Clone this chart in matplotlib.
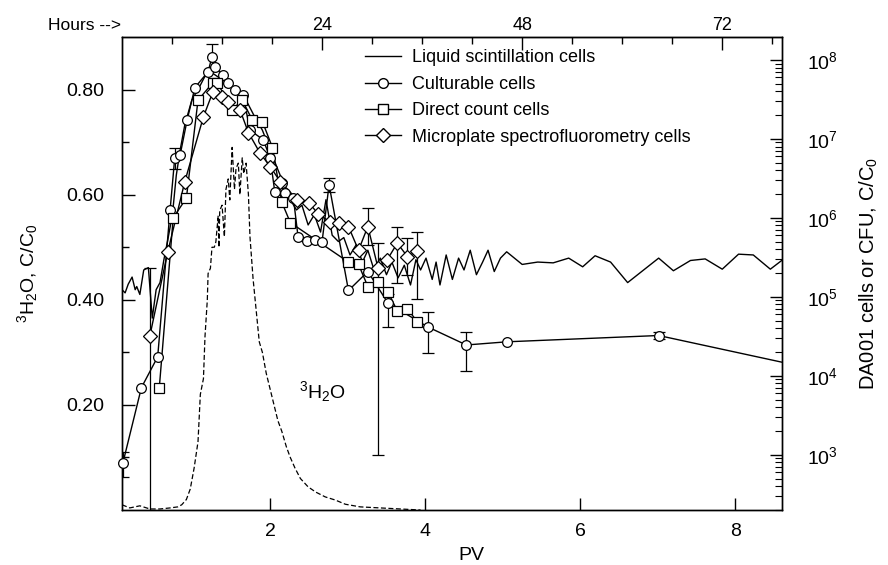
import numpy as np
import matplotlib
matplotlib.use('Agg')
import matplotlib.pyplot as plt
from matplotlib.lines import Line2D
from matplotlib.ticker import FixedLocator, LogLocator, NullFormatter, FuncFormatter

plt.rcParams['font.family'] = ['Liberation Sans', 'DejaVu Sans']
plt.rcParams['mathtext.fontset'] = 'custom'
plt.rcParams['mathtext.rm'] = 'Liberation Sans'
plt.rcParams['mathtext.it'] = 'Liberation Sans:italic'
plt.rcParams['mathtext.bf'] = 'Liberation Sans:bold'

# ---------------- data ----------------
# 3H2O breakthrough (left axis, C/C0)
tritium_pv = [0.09, 0.19, 0.32, 0.45, 0.58, 0.71, 0.81, 0.86, 0.92, 0.97, 1.02, 1.07, 1.10, 1.14,
              1.16, 1.19, 1.20, 1.23, 1.25, 1.28, 1.30, 1.33, 1.34, 1.35, 1.38, 1.41, 1.43, 1.46,
              1.48, 1.51, 1.54, 1.56, 1.59, 1.61, 1.64, 1.66, 1.69, 1.72, 1.74, 1.78, 1.82, 1.86,
              1.90, 1.95, 2.00, 2.05, 2.10, 2.15, 2.21, 2.26, 2.32, 2.39, 2.49, 2.59, 2.71, 2.84,
              2.97, 3.16, 3.42, 3.68, 3.94]
tritium_c = [0.010, 0.004, 0.008, 0.002, 0.002, 0.004, 0.006, 0.010, 0.02, 0.04, 0.08, 0.13, 0.22, 0.25,
             0.33, 0.40, 0.45, 0.46, 0.50, 0.50, 0.51, 0.56, 0.50, 0.57, 0.58, 0.52, 0.61, 0.63,
             0.59, 0.69, 0.61, 0.65, 0.66, 0.60, 0.67, 0.64, 0.66, 0.60, 0.52, 0.44, 0.38, 0.32,
             0.30, 0.26, 0.23, 0.20, 0.17, 0.15, 0.12, 0.10, 0.08, 0.06, 0.044, 0.034, 0.025, 0.019,
             0.011, 0.006, 0.004, 0.002, 0.0]

# Liquid scintillation cells (right axis, log10 C/C0)
liquid_pv = [0.09, 0.13, 0.17, 0.22, 0.26, 0.28, 0.32, 0.37, 0.43, 0.48, 0.53, 0.58, 0.63, 0.68,
             0.74, 0.79, 0.84, 0.90, 0.99, 1.10, 1.20, 1.29, 1.38, 1.48, 1.59, 1.69, 1.79, 1.90,
             2.00, 2.10, 2.18, 2.26, 2.34, 2.41, 2.49, 2.57, 2.65, 2.72, 2.80, 2.88, 2.95, 3.03,
             3.11, 3.19, 3.26, 3.34, 3.42, 3.50, 3.57, 3.65, 3.73, 3.81, 3.88, 3.94, 4.01, 4.09,
             4.14, 4.19, 4.27, 4.35, 4.43, 4.50, 4.58, 4.66, 4.74, 4.81, 4.89, 4.97, 5.05, 5.25,
             5.45, 5.65, 5.85, 6.03, 6.19, 6.39, 6.61, 7.01, 7.20, 7.42, 7.61, 7.83, 8.04, 8.23,
             8.45, 8.61]
liquid_log = [5.09, 5.05, 5.16, 5.25, 5.09, 5.13, 5.03, 5.34, 5.37, 4.73, 5.09, 5.18, 5.47, 5.72,
              6.04, 6.54, 6.86, 7.18, 7.49, 7.68, 7.87, 7.81, 7.75, 7.68, 7.56, 7.49, 7.30, 7.11,
              6.86, 6.61, 6.42, 6.23, 6.10, 6.16, 5.91, 6.04, 5.82, 6.23, 5.78, 5.70, 5.75, 5.53,
              5.66, 5.44, 5.59, 5.34, 5.49, 5.28, 5.44, 5.24, 5.40, 5.15, 5.47, 5.34, 5.49, 5.22,
              5.44, 5.15, 5.53, 5.22, 5.49, 5.34, 5.59, 5.28, 5.44, 5.59, 5.32, 5.49, 5.57, 5.41,
              5.44, 5.43, 5.49, 5.38, 5.52, 5.44, 5.18, 5.49, 5.33, 5.46, 5.48, 5.35, 5.54, 5.53,
              5.35, 5.47]

# Culturable cells (log10 C/C0); last value lies just past the right edge
cult_pv = [0.10, 0.34, 0.55, 0.71, 0.77, 0.84, 0.93, 1.03, 1.20, 1.25, 1.29, 1.39, 1.46, 1.55,
           1.65, 1.74, 1.91, 2.00, 2.06, 2.15, 2.19, 2.30, 2.36, 2.48, 2.58, 2.67, 2.76, 3.01,
           3.26, 3.52, 4.03, 4.53, 5.05, 7.01, 8.75]
cult_log = [2.89, 3.85, 4.24, 6.10, 6.76, 6.80, 7.24, 7.65, 7.85, 8.04, 7.91, 7.81, 7.71, 7.62,
            7.56, 7.11, 6.99, 6.76, 6.33, 6.44, 6.32, 6.25, 5.76, 5.71, 5.72, 5.70, 6.42, 5.08,
            5.32, 4.92, 4.62, 4.39, 4.43, 4.51, 4.14]
cult_err_pv = [0.10, 0.77, 1.25, 2.76, 3.52, 4.03, 4.53, 7.01]
cult_err_mid = [2.89, 6.76, 8.04, 6.42, 4.92, 4.62, 4.39, 4.51]
cult_err_lo = [2.72, 6.62, 7.90, 6.33, 4.62, 4.29, 4.06, 4.46]
cult_err_hi = [3.04, 6.88, 8.20, 6.51, 5.03, 4.81, 4.56, 4.56]

# Direct count cells (log10 C/C0)
direct_pv = [0.57, 0.75, 0.92, 1.07, 1.26, 1.32, 1.51, 1.64, 1.77, 1.90, 2.03, 2.15, 2.26, 3.01,
             3.14, 3.26, 3.39, 3.52, 3.64, 3.77, 3.90]
direct_log = [3.84, 6.00, 6.25, 7.49, 7.71, 7.71, 7.37, 7.49, 7.24, 7.22, 6.89, 6.20, 5.94, 5.44,
              5.41, 5.13, 5.19, 5.06, 4.82, 4.85, 4.68]
direct_err_pv = [3.39]
direct_err_mid = [5.19]
direct_err_lo = [3.00]
direct_err_hi = [5.68]

# Microplate spectrofluorometry cells (log10 C/C0)
micro_pv = [0.45, 0.68, 0.90, 1.14, 1.26, 1.38, 1.46, 1.61, 1.72, 1.87, 2.00, 2.13, 2.35, 2.50,
            2.62, 2.77, 2.89, 3.01, 3.14, 3.26, 3.39, 3.51, 3.64, 3.77, 3.90]
micro_log = [4.51, 5.57, 6.46, 7.28, 7.59, 7.53, 7.47, 7.37, 7.08, 6.82, 6.65, 6.46, 6.23, 6.19,
             6.05, 5.95, 5.94, 5.89, 5.59, 5.89, 5.37, 5.47, 5.68, 5.51, 5.58]
micro_err_pv = [0.45, 3.26, 3.64, 3.77, 3.90]
micro_err_mid = [4.51, 5.89, 5.68, 5.51, 5.58]
micro_err_lo = [2.00, 5.65, 5.18, 5.27, 4.97]
micro_err_hi = [5.37, 6.13, 5.89, 5.75, 5.82]

legend_labels = ['Liquid scintillation cells', 'Culturable cells', 'Direct count cells',
                 'Microplate spectrofluorometry cells']
pv_ticks = [2, 4, 6, 8]
left_ticks = [0.2, 0.4, 0.6, 0.8]
hour_ticks = [24, 48, 72]

# ---------------- figure ----------------
fig = plt.figure(figsize=(8.88, 5.65), dpi=100)
ax = fig.add_axes([0.1374, 0.0973, 0.7432, 0.8372])

ax.plot(tritium_pv, tritium_c, color='k', lw=0.9, ls=(0, (4, 2)))
ax.set_xlim(0.09, 8.6)
ax.set_ylim(0, 0.9)
ax.set_xticks(pv_ticks)
ax.set_xticklabels([str(t) for t in pv_ticks])
ax.set_yticks(left_ticks)
ax.set_yticklabels(['%.2f' % t for t in left_ticks])
ax.set_yticks([0.1, 0.3, 0.5, 0.7], minor=True)
ax.tick_params(axis='both', which='major', direction='in', length=9, width=1, labelsize=14)
ax.tick_params(axis='both', which='minor', direction='in', length=5, width=1)
ax.tick_params(axis='y', which='major', pad=13)
ax.tick_params(axis='x', which='major', pad=9)
ax.tick_params(top=False, right=False)
ax.set_xlabel('PV', fontsize=14)
ax.xaxis.set_label_coords(0.53, -0.078)
ax.set_ylabel('$^{3}$H$_{2}$O, C/C$_{0}$', fontsize=14)
ax.yaxis.set_label_coords(-0.125, 0.5)
ax.text(2.67, 0.225, '$^{3}$H$_{2}$O', fontsize=14, ha='center', va='center')

ax2 = ax.twinx()
ax2.set_yscale('log')
ax2.set_ylim(10 ** 2.30, 10 ** 8.29)


def P(v):
    return [10 ** x for x in v]


mk = dict(mfc='white', mec='k', mew=0.9, ms=7, ls='none', clip_on=False, zorder=3)
ax2.plot(liquid_pv, P(liquid_log), color='k', lw=1.0)
ax2.plot(cult_pv, P(cult_log), color='k', lw=1.0)
ax2.plot(cult_pv[:-1], P(cult_log[:-1]), marker='o', **mk)
ax2.plot(direct_pv, P(direct_log), color='k', lw=1.0)
ax2.plot(direct_pv, P(direct_log), marker='s', **mk)
ax2.plot(micro_pv, P(micro_log), color='k', lw=1.0)
ax2.plot(micro_pv, P(micro_log), marker='D', **mk)


def ebar(xs, mid, lo, hi):
    m = np.array(P(mid))
    ax2.errorbar(xs, m, yerr=[m - np.array(P(lo)), np.array(P(hi)) - m], fmt='none',
                 ecolor='k', elinewidth=0.9, capsize=4, capthick=0.9, zorder=1)


ebar(cult_err_pv, cult_err_mid, cult_err_lo, cult_err_hi)
ebar(direct_err_pv, direct_err_mid, direct_err_lo, direct_err_hi)
ebar(micro_err_pv, micro_err_mid, micro_err_lo, micro_err_hi)

ax2.yaxis.set_major_locator(FixedLocator([1e3, 1e4, 1e5, 1e6, 1e7, 1e8]))
ax2.yaxis.set_major_formatter(FuncFormatter(lambda v, p: '$10^{%d}$' % round(np.log10(v))))
ax2.yaxis.set_minor_locator(LogLocator(base=10, subs=np.arange(2, 10), numticks=20))
ax2.yaxis.set_minor_formatter(NullFormatter())
ax2.tick_params(axis='y', which='major', direction='in', length=9, width=1, labelsize=14, pad=18)
ax2.tick_params(axis='y', which='minor', direction='in', length=5, width=0.8)
ax2.set_ylabel('DA001 cells or CFU, C/C$_{0}$', fontsize=14.5)
ax2.yaxis.set_label_coords(1.115, 0.5)

handles = [Line2D([], [], color='k', lw=1.0),
           Line2D([], [], color='k', lw=1.0, marker='o', mfc='white', mec='k', ms=7),
           Line2D([], [], color='k', lw=1.0, marker='s', mfc='white', mec='k', ms=7),
           Line2D([], [], color='k', lw=1.0, marker='D', mfc='white', mec='k', ms=7)]
ax2.legend(handles, legend_labels, loc='upper left', bbox_to_anchor=(0.344, 1.008),
           frameon=False, fontsize=13, handlelength=2.0, labelspacing=0.52, handletextpad=0.6)

# top hours axis
def pv2h(p):
    return (np.asarray(p) - 0.09) * 9.3


def h2pv(h):
    return np.asarray(h) / 9.3 + 0.09


sec = ax.secondary_xaxis('top', functions=(pv2h, h2pv))
sec.set_xticks(hour_ticks)
sec.set_xticklabels([str(h) for h in hour_ticks])
sec.set_xticks(list(range(6, 79, 6)), minor=True)
sec.tick_params(axis='x', which='major', direction='in', length=9, width=1, labelsize=13, pad=2)
sec.tick_params(axis='x', which='minor', direction='in', length=5, width=1)

fig.text(48 / 888, 1 - 25 / 565, 'Hours -->', fontsize=12.5, ha='left', va='center')

for a in (ax, ax2):
    for s in a.spines.values():
        s.set_linewidth(1.0)

fig.savefig('out.png', dpi=100)
